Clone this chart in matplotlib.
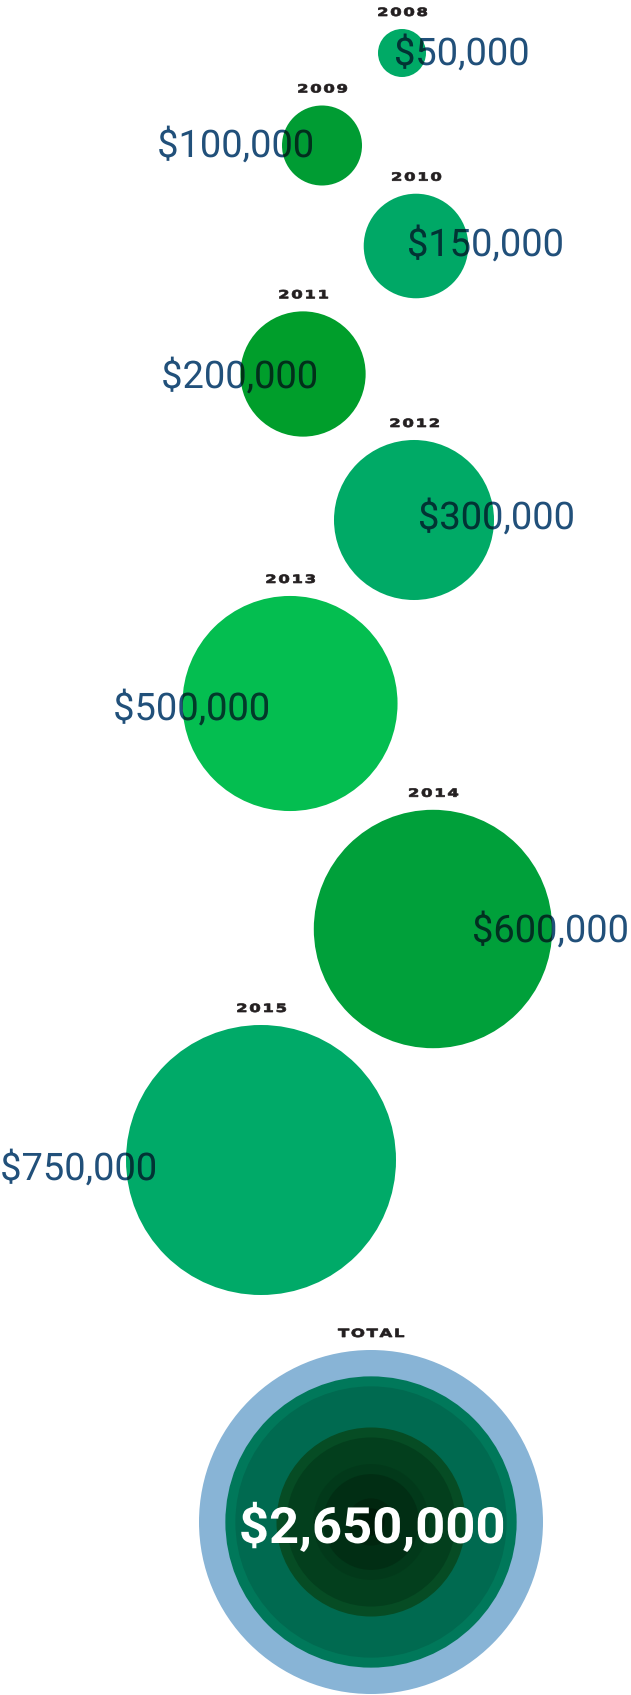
import numpy as np
import matplotlib.pyplot as plt
from matplotlib.patches import Circle, PathPatch
from matplotlib.textpath import TextPath
from matplotlib.font_manager import FontProperties
from matplotlib.transforms import Affine2D
from matplotlib.colors import to_rgb

# yearly amounts
years = ["2008", "2009", "2010", "2011", "2012", "2013", "2014", "2015"]
amounts = [50000, 100000, 150000, 200000, 300000, 500000, 600000, 750000]
year_colors = ["#00aa66", "#009c33", "#00a866", "#009e2b",
               "#00aa66", "#04be50", "#00a03a", "#00aa68"]

# zig-zag layout (pixel units, y grows downwards)
cx = [402, 322, 416, 303, 414, 290, 433, 261]
cy = [53, 145.5, 246, 374, 520, 703.5, 929, 1160]
label_x = [394, 312, 407, 316, 418, 268, 472, 155]
label_y = [65, 157, 256, 388, 529, 720, 942, 1180]
label_ha = ["left", "right"] * 4

# running-total discs inside the TOTAL bubble: rim colour, face colour
rim_colors = ["#00785a", "#006a50", "#064c24", "#033f1d",
              "#02391a", "#012e14", "#01260f"]
face_colors = ["#006a50", "#006a50", "#033f1d", "#033f1d",
               "#012e14", "#012e14", "#001a08"]

TEXT_BLUE = "#21507a"
AMOUNT_PROP = FontProperties(family="Roboto")
YEAR_PROP = FontProperties(family="DejaVu Sans", weight="bold")
TOTAL_PROP = FontProperties(family="Roboto", weight="bold")


def radius(v):
    # sqrt of the value mapped onto pixel radii
    lo, hi = np.sqrt(min(amounts)), np.sqrt(max(amounts))
    return np.interp(np.sqrt(v), [lo, hi], [24, 135])


def money(v):
    return f"${v:,.0f}"


def path_text(ax, x, y, s, prop, size, sx=1.0, ha="left", color="k",
              zorder=2, clip=None, lw=0):
    """Text drawn as a filled path (baseline at y) so it can be
    stretched horizontally and clipped to any patch."""
    tp = TextPath((0, 0), s, size=size, prop=prop)
    ext = tp.get_extents()
    w = ext.x1 * sx
    x0 = {"left": x, "right": x - w, "center": x - w / 2}[ha]
    tr = Affine2D().scale(sx, -1).translate(x0, y) + ax.transData
    p = PathPatch(tp, transform=tr, facecolor=color, edgecolor=color,
                  lw=lw, zorder=zorder)
    ax.add_patch(p)
    if clip is not None:
        p.set_clip_path(clip)
    return p


def year_label(ax, x, y, s):
    path_text(ax, x, y, "\u200a".join(s), YEAR_PROP, 11.4, sx=1.45,
              ha="center", color="#231f20", zorder=3, lw=0.5)


fig = plt.figure(figsize=(6.31, 16.95), dpi=100)
ax = fig.add_axes([0, 0, 1, 1])
ax.set_xlim(0, 631)
ax.set_ylim(1695, 0)
ax.axis("off")

for i, (yr, v) in enumerate(zip(years, amounts)):
    r = radius(v)
    circ = Circle((cx[i], cy[i]), r, color=year_colors[i], lw=0, zorder=1)
    ax.add_patch(circ)
    year_label(ax, cx[i], cy[i] - r - 13, yr)

    # blue label, then a darker copy clipped to the disc
    path_text(ax, label_x[i], label_y[i], money(v), AMOUNT_PROP, 38,
              sx=1.0, ha=label_ha[i], color=TEXT_BLUE, zorder=2)
    dark = np.array(to_rgb(TEXT_BLUE)) * np.array(to_rgb(year_colors[i]))
    path_text(ax, label_x[i], label_y[i], money(v), AMOUNT_PROP, 38,
              sx=1.0, ha=label_ha[i], color=tuple(dark), zorder=3,
              clip=circ)

# total: outer disc plus nested running totals (sqrt scale)
total = sum(amounts)
tx, ty, R = 371, 1522, 172
RIM = 10
year_label(ax, tx, ty - R - 13, "TOTAL")
ax.add_patch(Circle((tx, ty), R, color="#88b4d6", lw=0, zorder=1))
running = np.cumsum(amounts)[::-1][1:]
for k, c in enumerate(running):
    r = R * np.sqrt(c / total)
    ax.add_patch(Circle((tx, ty), r, color=rim_colors[k], lw=0, zorder=1))
    ax.add_patch(Circle((tx, ty), r - RIM, color=face_colors[k], lw=0,
                        zorder=1))
path_text(ax, tx, 1543, money(total), TOTAL_PROP, 50, sx=1.05,
          ha="center", color="white", zorder=4)

fig.savefig("out.png", dpi=100)
